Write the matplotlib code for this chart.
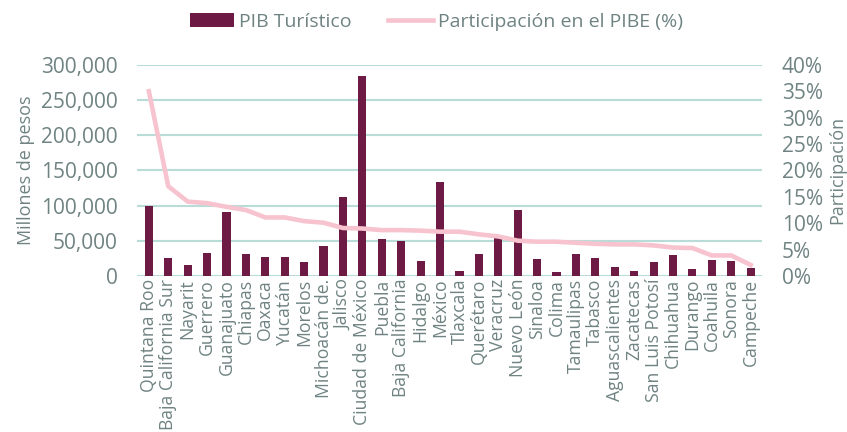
import matplotlib.pyplot as plt
from matplotlib.ticker import FuncFormatter, MultipleLocator

plt.rcParams['font.family'] = ['Open Sans', 'DejaVu Sans']

# Datos
estados = ["Quintana Roo", "Baja California Sur", "Nayarit", "Guerrero", "Guanajuato",
           "Chiapas", "Oaxaca", "Yucatán", "Morelos", "Michoacán de.", "Jalisco",
           "Ciudad de México", "Puebla", "Baja California", "Hidalgo", "México",
           "Tlaxcala", "Querétaro", "Veracruz", "Nuevo León", "Sinaloa", "Colima",
           "Tamaulipas", "Tabasco", "Aguascalientes", "Zacatecas", "San Luis Potosí",
           "Chihuahua", "Durango", "Coahuila", "Sonora", "Campeche"]
pib_turistico = [100000, 26000, 15700, 32800, 91300, 31400, 27600, 27600, 19500, 42800,
                 111700, 284300, 52800, 49400, 20900, 133600, 7600, 31400, 58500, 93200,
                 24200, 6200, 31400, 26100, 12800, 7600, 19500, 29500, 9500, 22800,
                 20900, 10900]
participacion = [35.0, 17.0, 14.1, 13.8, 13.1, 12.5, 11.1, 11.1, 10.4, 10.1, 9.1, 9.0,
                 8.7, 8.7, 8.6, 8.4, 8.4, 7.9, 7.5, 6.7, 6.5, 6.5, 6.3, 6.1, 6.0, 6.0,
                 5.8, 5.4, 5.3, 3.9, 3.9, 2.1]

gris = "#6f8382"
granate = "#6d1a45"
rosa = "#f7c3cf"
rejilla = "#b9dcd9"

fig = plt.figure(figsize=(8.47, 4.32), dpi=100)
ax = fig.add_axes([0.162, 0.361, 0.738, 0.489])
x = range(len(estados))

barras = ax.bar(x, pib_turistico, width=0.42, color=granate, zorder=2, label="PIB Turístico")
ax.set_ylim(0, 300000)
ax.set_xlim(-0.6, len(estados) - 0.4)
ax.yaxis.set_major_locator(MultipleLocator(50000))
ax.yaxis.set_major_formatter(FuncFormatter(lambda v, p: f"{int(v):,}"))
ax.grid(axis="y", color=rejilla, linewidth=1.5, zorder=0)
ax.set_axisbelow(True)
for s in ax.spines.values():
    s.set_visible(False)
ax.tick_params(axis="both", length=0, colors=gris)
ax.tick_params(axis="y", labelsize=15, pad=14)
ax.tick_params(axis="x", pad=2)
ax.set_xticks(list(x))
ax.set_xticklabels(estados, rotation=90, fontsize=12.7)
ax.set_ylabel("Millones de pesos", fontsize=13, color=gris, labelpad=4)

ax2 = ax.twinx()
linea, = ax2.plot(x, participacion, color=rosa, linewidth=3.3, zorder=3,
                  label="Participación en el PIBE (%)")
ax2.set_ylim(0, 40)
ax2.yaxis.set_major_locator(MultipleLocator(5))
ax2.yaxis.set_major_formatter(FuncFormatter(lambda v, p: f"{int(v)}%"))
for s in ax2.spines.values():
    s.set_visible(False)
ax2.tick_params(axis="y", length=0, colors=gris, labelsize=15, pad=14)
ax2.set_ylabel("Participación", fontsize=13, color=gris, labelpad=4)

leg = fig.legend(handles=[barras, linea], loc="center", bbox_to_anchor=(0.515, 0.95),
                 ncol=2, frameon=False, fontsize=14, handlelength=2.3, columnspacing=1.85,
                 handletextpad=0.26)
for t in leg.get_texts():
    t.set_color(gris)

fig.savefig("out.png", dpi=100)
